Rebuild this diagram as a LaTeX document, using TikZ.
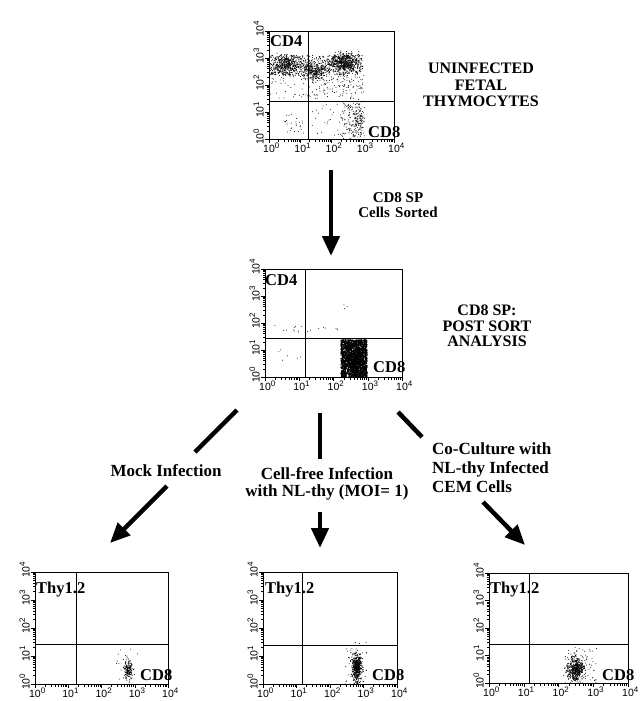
\documentclass[tikz,border=0pt]{standalone}
\usepackage{fontspec}
\setmainfont{Liberation Serif}
\setsansfont{Liberation Sans}
\usetikzlibrary{arrows.meta}

\tikzset{
	frame/.style={line width=0.9pt},
	quad/.style={line width=0.8pt},
	axtick/.style={line width=0.5pt},
	axlab/.style={font=\fontsize{10.5}{10.5}\selectfont, inner sep=0pt},
	plotlab/.style={font=\bfseries\fontsize{16.5}{17}\selectfont, inner sep=0pt},
	titletext/.style={font=\bfseries\fontsize{16}{16.5}\selectfont, align=center, inner sep=0pt},
	steptext/.style={font=\bfseries\fontsize{17}{17}\selectfont, inner sep=0pt},
	shaft/.style={line width=4.5pt},
	bigarrow/.style={line width=4.5pt, -{Triangle[width=17pt,length=20pt]}},
}

% decade label 10^d, centred on the "10"
\newcommand{\decade}[1]{\textsf{10}\rlap{\raisebox{4.5pt}{\fontsize{8}{8}\selectfont\textsf{#1}}}}

% frame, log ticks and decade labels of one plot (data units 0..4)
\newcommand{\facsaxes}{%
	\draw[frame] (0,0) rectangle (4,4);
	\foreach \d in {0,1,2,3} {
		\foreach \k in {2,...,9} {
			\draw[axtick] ({\d+ln(\k)/ln(10)},0) -- ++(0pt,-2.5pt);
			\draw[axtick] (0,{\d+ln(\k)/ln(10)}) -- ++(-2.5pt,0pt);
		}
	}
	\foreach \d in {0,...,4} {
		\draw[axtick] (\d,0) -- ++(0pt,-4pt);
		\draw[axtick] (0,\d) -- ++(-4pt,0pt);
		\node[axlab, anchor=north] at ([yshift=-3.5pt]\d,0) {\decade{\d}};
		\node[axlab, rotate=90, anchor=south] at ([xshift=-5pt]0,\d) {\decade{\d}};
	}
}

% gaussian-like cloud: count, x, x spread, y, y spread, dot radius
\newcommand{\cloud}[6]{%
	\foreach \i in {1,...,#1} {
		\pgfmathsetmacro{\px}{#2+#3*(rand+rand+rand)/3}
		\pgfmathsetmacro{\py}{#4+#5*(rand+rand+rand)/3}
		\fill (\px,\py) circle (#6);
	}
}

% uniform patch: count, x0, x1, y0, y1, dot radius
\newcommand{\patch}[6]{%
	\foreach \i in {1,...,#1} {
		\pgfmathsetmacro{\px}{#2+(#3-#2)*rnd}
		\pgfmathsetmacro{\py}{#4+(#5-#4)*rnd}
		\fill (\px,\py) circle (#6);
	}
}

\begin{document}
\begin{tikzpicture}[x=1pt,y=-1pt]
	\useasboundingbox (0,0) rectangle (644,701);
	\pgfmathsetseed{4711}
	
	% Top plot - uninfected fetal thymocytes
	\begin{scope}[shift={(269,139)}, x=31.25pt, y=27pt]
		\begin{scope}
			\clip (0,0) rectangle (4,4);
			\patch{520}{0.0}{3.0}{2.35}{3.1}{0.55pt}
			\cloud{360}{0.55}{0.75}{2.75}{0.5}{0.55pt}
			\cloud{240}{1.5}{0.6}{2.5}{0.5}{0.55pt}
			\cloud{420}{2.4}{0.65}{2.85}{0.5}{0.55pt}
			\patch{140}{1.2}{3.05}{1.45}{2.45}{0.5pt}
			\patch{35}{0.05}{1.2}{1.5}{2.45}{0.5pt}
			\patch{140}{2.3}{3.05}{0.0}{1.4}{0.5pt}
			\cloud{90}{2.85}{0.25}{0.7}{0.7}{0.5pt}
			\patch{25}{0.5}{1.15}{0.2}{1.0}{0.5pt}
			\patch{25}{1.3}{2.3}{0.1}{1.3}{0.5pt}
		\end{scope}
		\draw[quad] (1.25,0) -- (1.25,4);
		\draw[quad] (0,1.41) -- (4,1.41);
		\facsaxes
	\end{scope}
	\node[plotlab, anchor=base west] (topcdfour) at (270,47) {CD4};
	\node[plotlab, anchor=base west] (topcdeight) at (368,137) {CD8};
	\node[titletext] (uninfected) at (481,85) {UNINFECTED\\FETAL\\THYMOCYTES};
	
	% Middle plot - post sort analysis
	\begin{scope}[shift={(265,377)}, x=34.25pt, y=27pt]
		\begin{scope}
			\clip (0,0) rectangle (4,4);
			\patch{1800}{2.22}{2.98}{0.0}{1.38}{0.75pt}
			\cloud{300}{2.6}{0.4}{0.6}{0.9}{0.6pt}
			\patch{18}{0.1}{2.4}{1.65}{1.9}{0.5pt}
			\patch{6}{0.4}{1.1}{0.5}{1.1}{0.5pt}
			\patch{3}{2.25}{2.4}{2.5}{2.8}{0.5pt}
		\end{scope}
		\draw[quad] (1.17,0) -- (1.17,4);
		\draw[quad] (0,1.44) -- (4,1.44);
		\facsaxes
	\end{scope}
	\node[plotlab, anchor=base west] (midcdfour) at (265,285) {CD4};
	\node[plotlab, anchor=base west] (midcdeight) at (373,372) {CD8};
	\node[titletext, font=\bfseries\fontsize{16}{15.5}\selectfont] (postsort) at (487,326) {CD8 SP:\\POST SORT\\ANALYSIS};
	
	% Bottom left - mock infection
	\begin{scope}[shift={(35,684)}, x=33.25pt, y=28pt]
		\begin{scope}
			\clip (0,0) rectangle (4,4);
			\cloud{140}{2.8}{0.22}{0.5}{0.5}{0.55pt}
			\patch{20}{2.45}{3.1}{0.0}{1.3}{0.5pt}
		\end{scope}
		\draw[quad] (1.26,0) -- (1.26,4);
		\draw[quad] (0,1.43) -- (4,1.43);
		\facsaxes
	\end{scope}
	\node[plotlab, anchor=base west] (mockthy) at (36,593) {Thy1.2};
	\node[plotlab, anchor=base west] (mockcd) at (140,680) {CD8};
	
	% Bottom middle - cell-free infection
	\begin{scope}[shift={(263,684)}, x=33.5pt, y=28pt]
		\begin{scope}
			\clip (0,0) rectangle (4,4);
			\cloud{450}{2.8}{0.22}{0.6}{0.7}{0.55pt}
			\patch{40}{2.45}{3.1}{0.0}{1.5}{0.5pt}
		\end{scope}
		\draw[quad] (1.19,0) -- (1.19,4);
		\draw[quad] (0,1.39) -- (4,1.39);
		\facsaxes
	\end{scope}
	\node[plotlab, anchor=base west] (freethy) at (265,593) {Thy1.2};
	\node[plotlab, anchor=base west] (freecd) at (372,680) {CD8};
	
	% Bottom right - co-culture
	\begin{scope}[shift={(489,683)}, x=34.75pt, y=27.5pt]
		\begin{scope}
			\clip (0,0) rectangle (4,4);
			\cloud{450}{2.5}{0.35}{0.5}{0.6}{0.55pt}
			\patch{80}{2.15}{3.1}{0.0}{1.3}{0.5pt}
		\end{scope}
		\draw[quad] (1.15,0) -- (1.15,4);
		\draw[quad] (0,1.42) -- (4,1.42);
		\facsaxes
	\end{scope}
	\node[plotlab, anchor=base west] (cocultthy) at (490,593) {Thy1.2};
	\node[plotlab, anchor=base west] (cocultcd) at (602,680) {CD8};
	
	% Step labels
	\node[font=\bfseries\fontsize{15}{15}\selectfont, align=center, inner sep=0pt] (sorted) at (398,205) {CD8 SP\\Cells\hspace{0.35em}Sorted};
	\node[steptext] (mock) at (166,471) {Mock Infection};
	\node[steptext, align=center, font=\bfseries\fontsize{17}{17}\selectfont] (cellfree) at (327,484) {Cell-free Infection\\with NL-thy (MOI= 1)};
	\node[steptext, align=left, anchor=north west, font=\bfseries\fontsize{17}{19}\selectfont] (coculture) at (432,442) {Co-Culture with\\NL-thy Infected\\CEM Cells};
	
	% Arrows
	\coordinate (sortA) at (331,170);
	\coordinate (sortB) at (331,256);
	\coordinate (mockA) at (237,410);
	\coordinate (mockB) at (195,452);
	\coordinate (mockC) at (167,486);
	\coordinate (mockD) at (110,543);
	\coordinate (freeA) at (320,413);
	\coordinate (freeB) at (320,459);
	\coordinate (freeC) at (320,512);
	\coordinate (freeD) at (320,548);
	\coordinate (coA) at (398,412);
	\coordinate (coB) at (422,437);
	\coordinate (coC) at (483,502);
	\coordinate (coD) at (525,545);
	\draw[bigarrow] (sortA) -- (sortB);
	\draw[shaft] (mockA) -- (mockB);
	\draw[bigarrow] (mockC) -- (mockD);
	\draw[shaft] (freeA) -- (freeB);
	\draw[bigarrow] (freeC) -- (freeD);
	\draw[shaft] (coA) -- (coB);
	\draw[bigarrow] (coC) -- (coD);
	
\end{tikzpicture}
\end{document}
